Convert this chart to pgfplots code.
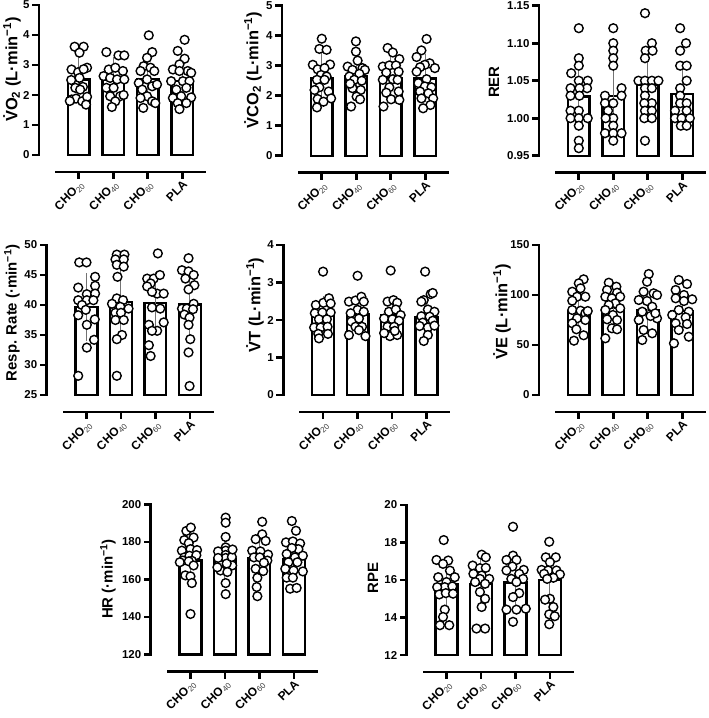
\documentclass[border=0pt]{standalone}
\usepackage{pgfplots}
\pgfplotsset{compat=1.18}
\usepackage{fontspec}
\setmainfont{Liberation Sans}
\newcommand\sub[1]{\textsubscript{\mdseries\color{black!75}#1}}
\newcommand\fourbars[5]{%
 \addplot[barst] coordinates {(-0.315,#1) (-0.315,#2) (0.315,#2) (0.315,#1)} --cycle;
 \addplot[barst] coordinates {(0.685,#1) (0.685,#3) (1.315,#3) (1.315,#1)} --cycle;
 \addplot[barst] coordinates {(1.685,#1) (1.685,#4) (2.315,#4) (2.315,#1)} --cycle;
 \addplot[barst] coordinates {(2.685,#1) (2.685,#5) (3.315,#5) (3.315,#1)} --cycle;
}
% offset axis lines and ticks of one panel (as filled strips); #1,#2 = position (bp) of the plot's lower-left corner, #3 = number of y intervals
\newcommand\panelaxes[3]{%
 \begin{scope}[shift={(#1bp,-#2bp)}, x=1bp, y=1bp]
  \fill[black] (-17.3,-1.3) rectangle (-14.7,151.3);
  \foreach \i in {0,...,#3} {\fill[black] (-23,{150*\i/#3-1.3}) rectangle (-16,{150*\i/#3+1.3});}
  \fill[black] (0,-18.3) rectangle (151,-15.7);
  \foreach \t in {23.79,58.26,92.74,127.21} {\fill[black] ({\t-1.3},-24) rectangle ({\t+1.3},-17);}
 \end{scope}}
\pgfplotsset{
 panel/.style={
   scale only axis, width=151bp, height=150bp,
   xmin=-0.69, xmax=3.69,
   clip=false,
   separate axis lines,
   axis x line*=bottom, axis y line*=left,
   x axis line style={draw=none},
   y axis line style={draw=none},
   tick align=outside, major tick length=6bp,
   xtick={0,1,2,3},
   xticklabels={CHO\sub{20},CHO\sub{40},CHO\sub{60},PLA},
   xtick style={draw=none},
   ytick style={draw=none},
   xticklabel style={yshift=-17bp, rotate=45, anchor=north east, inner sep=1bp, font=\bfseries\fontsize{12}{14}\selectfont},
   yticklabel style={xshift=-16bp, font=\bfseries\fontsize{11.5}{13}\selectfont},
   /pgf/number format/assume math mode=true,
   ylabel style={anchor=center, font=\bfseries\fontsize{15}{17}\selectfont},
 },
 lminlabel/.style={ylabel style={font=\bfseries\fontsize{16.5}{18}\selectfont}},
 barst/.style={draw=black, fill=white, line width=2.4bp, line join=miter},
 errst/.style={draw=none, mark=none,
   error bars/y dir=both, error bars/y explicit,
   error bars/error bar style={draw=black!55, line width=1bp, solid},
   error bars/error mark options={draw=black!55, line width=1bp, mark size=5bp}},
 pts/.style={only marks, mark=*, mark size=4.4bp, mark options={fill=white, draw=black, line width=1.4bp}},
}
\begin{document}
\begin{tikzpicture}
\path[use as bounding box] (0,0) rectangle (709bp,-718bp);

% ---------- VO2
\begin{axis}[panel, lminlabel, at={(55bp,-155bp)}, anchor=south west, ymin=0, ymax=5, ytick={0,1,2,3,4,5},
  ylabel={\.{V}O\textsubscript{2} (L·min\textsuperscript{−1})}, ylabel style={at={(axis description cs:-0.285,0.57)}}]
\fourbars{0}{2.52}{2.52}{2.53}{2.46}
\addplot[errst] coordinates {(0,2.52) +- (0,0.63) (1,2.52) +- (0,0.58) (2,2.53) +- (0,0.65) (3,2.46) +- (0,0.6)};
\addplot[pts] coordinates {(-0.12,3.61)(0.14,3.61)(0.02,3.41)(-0.21,2.85)(-0.02,2.76)(0.24,2.91)(0.14,2.86)(0.02,2.57)(-0.1,2.24)(0.12,2.27)(0.04,2.18)(-0.21,1.85)(-0.08,1.88)(0.1,1.79)(0.24,1.94)(0.21,1.68)(-0.26,1.8)(-0.22,2.5)};
\addplot[pts] coordinates {(0.8,3.43)(1.15,3.32)(1.32,3.32)(0.87,2.85)(1.06,2.91)(1.28,2.8)(0.72,2.63)(0.91,2.57)(1.11,2.52)(1.32,2.52)(0.8,2.24)(1.01,2.24)(0.91,1.96)(1.2,1.96)(1.06,1.79)(0.96,1.6)(1.3,2.0)};
\addplot[pts] coordinates {(2.03,3.99)(2.13,3.43)(1.98,3.24)(1.88,2.96)(2.08,2.91)(1.79,2.8)(2.19,2.8)(1.98,2.52)(1.74,2.4)(2.13,2.29)(2.27,2.35)(1.84,2.18)(1.98,1.96)(1.79,1.9)(2.13,1.79)(1.87,1.57)(2.22,1.73)};
\addplot[pts] coordinates {(3.07,3.84)(2.87,3.47)(3.07,3.21)(2.92,3.02)(2.73,2.85)(3.16,2.8)(2.92,2.8)(3.26,2.74)(2.68,2.46)(3.02,2.46)(3.21,2.46)(2.83,2.18)(3.12,2.24)(2.73,1.9)(2.97,1.96)(3.26,1.92)(2.87,1.73)(3.12,1.73)(2.92,1.53)};
\end{axis}
\panelaxes{55}{155}{5}

% ---------- VCO2
\begin{axis}[panel, lminlabel, at={(298bp,-155.7bp)}, anchor=south west, ymin=0, ymax=5, ytick={0,1,2,3,4,5},
  ylabel={\.{V}CO\textsubscript{2} (L·min\textsuperscript{−1})}, ylabel style={at={(axis description cs:-0.298,0.571)}}]
\fourbars{0}{2.6}{2.65}{2.58}{2.58}
\addplot[errst] coordinates {(0,2.6) +- (0,0.67) (1,2.65) +- (0,0.6) (2,2.58) +- (0,0.6) (3,2.58) +- (0,0.63)};
\addplot[pts] coordinates {(0,3.9)(-0.07,3.56)(0.14,3.53)(-0.26,3.03)(0.24,3.04)(-0.12,2.88)(0.08,2.92)(-0.02,2.69)(0.14,2.64)(-0.14,2.53)(0.08,2.53)(-0.07,2.28)(-0.21,2.19)(0.2,2.14)(-0.12,1.89)(0.27,1.91)(0.05,1.8)(-0.14,1.61)};
\addplot[pts] coordinates {(0.99,3.81)(0.99,3.47)(1.04,3.17)(0.75,2.97)(0.89,2.86)(1.18,2.92)(1.25,2.86)(1.09,2.73)(0.8,2.64)(0.94,2.53)(1.16,2.5)(0.89,2.25)(1.13,2.19)(1.01,1.97)(1.11,1.88)(0.85,1.64)(0.82,2.4)};
\addplot[pts] coordinates {(1.91,3.59)(2.06,3.44)(2.25,3.22)(1.77,2.97)(1.96,3.01)(2.15,3.01)(2.23,2.8)(1.87,2.77)(2.06,2.55)(1.77,2.53)(2.2,2.53)(1.96,2.28)(1.87,2.1)(2.23,2.14)(2.01,1.88)(2.25,1.86)(1.79,1.64)};
\addplot[pts] coordinates {(3.04,3.89)(2.89,3.51)(2.75,3.29)(3.13,3.08)(2.99,3.03)(3.28,2.92)(2.85,2.95)(2.75,2.8)(3.04,2.55)(2.8,2.42)(2.99,2.31)(3.18,2.28)(2.85,2.14)(3.09,2.08)(3.23,1.91)(2.89,1.91)(3.15,1.69)(2.94,1.58)};
\end{axis}
\panelaxes{298}{155.7}{5}

% ---------- RER
\begin{axis}[panel, at={(555bp,-155.7bp)}, anchor=south west, ymin=0.95, ymax=1.15, ytick={0.95,1.00,1.05,1.10,1.15},
  yticklabel style={/pgf/number format/.cd, fixed, fixed zerofill, precision=2},
  ylabel={RER}, ylabel style={at={(axis description cs:-0.404,0.491)}}]
\fourbars{0.95}{1.029}{1.03}{1.045}{1.032}
\addplot[errst] coordinates {(0,1.029) +- (0,0.04) (1,1.03) +- (0,0.046) (2,1.045) +- (0,0.035) (3,1.032) +- (0,0.037)};
\addplot[pts] coordinates {(0,1.12)(0,1.08)(0,1.07)(-0.22,1.06)(0,1.05)(0.26,1.05)(-0.24,1.04)(0.24,1.04)(0.02,1.04)(-0.24,1.03)(0.02,1.03)(-0.24,1.01)(0,1.01)(-0.24,1.0)(0,1.0)(0.26,1.0)(0,0.99)(0,0.97)(0,0.96)};
\addplot[pts] coordinates {(1,1.12)(1,1.10)(1,1.09)(1,1.08)(1,1.07)(1.24,1.04)(0.76,1.03)(1.24,1.03)(0.76,1.02)(1,1.02)(0.85,1.01)(1,1.0)(0.78,1.0)(1,0.99)(0.76,0.98)(1,0.98)(1.24,0.98)(1,0.97)};
\addplot[pts] coordinates {(1.92,1.14)(2.12,1.10)(1.94,1.09)(2.14,1.09)(1.92,1.08)(1.73,1.05)(1.92,1.05)(2.12,1.05)(2.31,1.05)(1.92,1.04)(2.12,1.04)(1.92,1.03)(2.12,1.02)(1.9,1.02)(1.92,1.01)(2.12,1.01)(1.9,1.0)(2.12,1.0)(1.92,0.97)};
\addplot[pts] coordinates {(2.94,1.12)(3.11,1.10)(2.94,1.09)(2.94,1.07)(3.13,1.07)(3.13,1.05)(2.94,1.04)(2.94,1.03)(2.94,1.02)(3.13,1.02)(2.79,1.01)(3.13,1.01)(2.79,1.0)(2.98,1.0)(3.22,1.0)(2.96,0.99)(3.13,0.99)};
\end{axis}
\panelaxes{555}{155.7}{4}

% ---------- Resp. Rate
\begin{axis}[panel, at={(62.7bp,-395bp)}, anchor=south west, ymin=25, ymax=50, ytick={25,30,35,40,45,50},
  ylabel={Resp. Rate (·min\textsuperscript{−1})}, ylabel style={at={(axis description cs:-0.336,0.547)}}]
\fourbars{25}{39.7}{40.5}{40.3}{40.1}
\addplot[errst] coordinates {(0,39.7) +- (0,4.8) (1,40.5) +- (0,5.5) (2,40.3) +- (0,4.3) (3,40.1) +- (0,5.1)};
\addplot[pts] coordinates {(-0.21,47.1)(0,47.1)(0.25,44.7)(-0.24,42.9)(0.25,43.2)(0.01,41.8)(0.25,41.9)(-0.24,40.8)(0.01,40.8)(0.2,40.8)(-0.13,40)(-0.02,39.2)(-0.24,38.3)(0.24,37.6)(0.01,36.7)(0.22,34.2)(0.01,32.9)(-0.24,28.2)};
\addplot[pts] coordinates {(0.88,48.4)(1.1,48.4)(0.84,47.6)(1.08,47.6)(0.88,46.7)(1.08,46.4)(0.9,44.7)(0.88,41.1)(1.06,40.8)(0.74,40.2)(0.98,39.7)(1.22,39.4)(0.84,38.7)(1,38.7)(0.84,37.5)(1.08,37.5)(1.03,35)(0.88,34.3)(0.88,28.2)};
\addplot[pts] coordinates {(2.07,48.6)(1.76,44.4)(1.95,44.4)(2.13,45)(1.86,43.6)(1.76,43.1)(2.05,41.9)(2.24,41.9)(1.9,42.2)(1.9,39.6)(2.14,39.4)(2.24,37.1)(1.81,36.7)(2.05,35.7)(1.9,35.7)(1.81,33.3)(1.86,31.5)};
\addplot[pts] coordinates {(2.77,45.8)(2.96,47.8)(2.96,45.6)(3.11,45)(2.87,44.4)(3.13,43.3)(2.96,42.6)(3.11,40.2)(2.77,39.4)(2.91,39.4)(3.09,39.3)(2.84,38.4)(2.99,37.9)(2.96,36.7)(3.01,34.3)(2.96,32.1)(2.99,26.5)};
\end{axis}
\panelaxes{62.7}{395}{5}

% ---------- VT
\begin{axis}[panel, lminlabel, at={(299.3bp,-395bp)}, anchor=south west, ymin=0, ymax=4, ytick={0,1,2,3,4},
  ylabel={\.{V}T (L·min\textsuperscript{−1})}, ylabel style={at={(axis description cs:-0.293,0.60)}}]
\fourbars{0}{2.12}{2.15}{2.12}{2.08}
\addplot[errst] coordinates {(0,2.12) +- (0,0.38) (1,2.15) +- (0,0.4) (2,2.12) +- (0,0.4) (3,2.08) +- (0,0.4)};
\addplot[pts] coordinates {(0,3.29)(-0.21,2.4)(0.01,2.46)(0.17,2.58)(0.22,2.44)(-0.24,2.18)(-0.02,2.2)(0.22,2.2)(-0.12,2.02)(0.11,2.02)(-0.26,1.8)(-0.07,1.8)(0.13,1.82)(-0.14,1.63)(0.14,1.63)(-0.12,1.51)};
\addplot[pts] coordinates {(1,3.18)(0.75,2.49)(0.94,2.52)(1.11,2.62)(1.18,2.49)(1,2.27)(1.18,2.22)(0.8,2.18)(1.04,2.04)(0.82,1.96)(0.94,1.82)(1.13,1.82)(1.04,1.73)(0.75,1.6)(1.23,1.57)};
\addplot[pts] coordinates {(1.96,3.32)(1.87,2.49)(2.04,2.53)(2.15,2.46)(1.91,2.22)(2.11,2.28)(2.25,2.13)(1.77,2.04)(2.01,2.02)(2.2,1.98)(1.87,1.82)(2.06,1.82)(1.94,1.57)(2.15,1.6)(2.08,1.71)(1.77,1.65)};
\addplot[pts] coordinates {(2.96,3.29)(3.12,2.69)(3.18,2.72)(2.92,2.53)(2.85,2.49)(3.04,2.28)(3.23,2.22)(2.85,2.1)(3.09,2.09)(2.89,1.93)(3.18,1.98)(2.8,1.84)(3.04,1.8)(3.23,1.85)(3.04,1.6)(2.92,1.44)};
\end{axis}
\panelaxes{299.3}{395}{4}

% ---------- VE
\begin{axis}[panel, lminlabel, at={(555bp,-395bp)}, anchor=south west, ymin=0, ymax=150, ytick={0,50,100,150},
  ylabel={\.{V}E (L·min\textsuperscript{−1})}, ylabel style={at={(axis description cs:-0.351,0.553)}}]
\fourbars{0}{84}{87}{85}{84}
\addplot[errst] coordinates {(0,84) +- (0,16) (1,87) +- (0,14) (2,85) +- (0,16) (3,84) +- (0,15)};
\addplot[pts] coordinates {(0.14,115.7)(0,111.7)(0.05,106.7)(-0.19,103.3)(-0.05,98.3)(0.19,98.3)(-0.19,94.3)(-0.19,85)(0.05,84.3)(0.19,81.7)(-0.05,76.7)(-0.19,71.7)(0.19,75)(-0.07,65.7)(0.14,59.7)(-0.14,54.3)(0.26,84)};
\addplot[pts] coordinates {(0.87,112.3)(1.09,108.3)(0.82,105)(1.11,102.3)(0.77,98.3)(0.96,96.7)(1.2,98.3)(1.06,91.7)(0.87,90)(0.77,85)(1.2,86.7)(0.99,80)(0.82,75.7)(1.11,75)(0.96,66.7)(1.11,65.7)(0.77,56.7)};
\addplot[pts] coordinates {(2.03,121)(1.98,113.3)(1.88,103.3)(2.17,101.7)(1.74,95)(1.98,94)(2.27,100)(2.13,88.3)(1.84,83.3)(2.27,76.7)(2.08,79)(1.74,75)(1.88,65)(2.13,61.7)(1.84,55)(2.22,81.7)};
\addplot[pts] coordinates {(2.9,115)(3.14,111)(2.81,105)(3.05,100)(3.29,95.7)(2.81,96.7)(3.05,94)(2.9,85)(3.19,83.3)(2.71,80)(3.1,77.7)(2.81,71.7)(3.14,71)(2.9,65)(3.19,58.3)(2.76,51.7)};
\end{axis}
\panelaxes{555}{395}{3}

% ---------- HR
\begin{axis}[panel, at={(166.7bp,-654.5bp)}, anchor=south west, ymin=120, ymax=200, ytick={120,140,160,180,200},
  ylabel={HR (·min\textsuperscript{−1})}, ylabel style={at={(axis description cs:-0.389,0.503)}}]
\fourbars{120}{170.1}{170.8}{171.3}{170.8}
\addplot[errst] coordinates {(0,170.1) +- (0,9) (1,170.8) +- (0,9.5) (2,171.3) +- (0,8.5) (3,170.8) +- (0,8.5)};
\addplot[pts] coordinates {(-0.12,185.9)(0.01,187.7)(0.09,182.4)(-0.18,181)(-0.05,179.4)(-0.25,175.4)(0,176.2)(0.19,175.7)(-0.18,171.8)(-0.03,172.7)(0.17,173)(-0.22,170.1)(0.04,170)(-0.31,169.2)(-0.05,169.7)(0.09,167.5)(-0.15,162.2)(0,161.7)(0.04,158.1)(0,141.6)};
\addplot[pts] coordinates {(1.02,193)(1.02,190.3)(1.02,182.7)(1.02,177.1)(1.02,175.4)(1.02,173.1)(1.02,171.5)(0.83,168.3)(1.21,167.5)(1.05,168.5)(0.87,164.8)(1.07,164)(0.78,166.5)(1.02,158.1)(1.02,152.2)(0.8,175)(1.2,172)(0.8,171.5)(1.22,176)};
\addplot[pts] coordinates {(2.08,190.8)(2.08,184.1)(1.89,181.5)(2.18,180.6)(1.79,175.4)(2.03,175)(2.25,173.3)(1.84,171.8)(2.01,171.8)(2.23,170.1)(1.89,165.7)(2.11,164.5)(1.94,160.9)(1.92,156)(1.94,151.1)(2.13,169)};
\addplot[pts] coordinates {(2.94,191.2)(3.06,186)(2.77,179.8)(2.97,180.3)(3.18,179.2)(3.13,176.2)(2.94,176.8)(2.79,173.6)(3.03,171.8)(3.26,172.7)(2.84,169.2)(3.1,169.2)(2.75,165.7)(2.99,164.8)(3.26,164.3)(2.79,161)(2.97,161)(2.89,155.1)(3.08,155.5)};
\end{axis}
\panelaxes{166.7}{654.5}{4}

% ---------- RPE
\begin{axis}[panel, at={(422.7bp,-655bp)}, anchor=south west, ymin=12, ymax=20, ytick={12,14,16,18,20},
  ylabel={RPE}, ylabel style={at={(axis description cs:-0.329,0.513)}}]
\fourbars{12}{15.78}{15.8}{15.87}{16.0}
\addplot[errst] coordinates {(0,15.78) +- (0,1.22) (1,15.8) +- (0,1.15) (2,15.87) +- (0,1.35) (3,16.0) +- (0,1.15)};
\addplot[pts] coordinates {(-0.08,18.13)(-0.29,17.07)(0.05,17.04)(-0.1,16.86)(0.1,16.5)(-0.24,16.15)(0.24,16.15)(0,15.89)(-0.05,15.62)(-0.27,15.62)(0.17,15.66)(-0.21,15.23)(-0.02,15.3)(0.19,15.27)(-0.05,14.42)(-0.1,14.03)(-0.19,13.59)(0.08,13.59)};
\addplot[pts] coordinates {(1.02,17.35)(1.14,17.21)(0.76,16.77)(0.97,16.63)(1.14,16.65)(0.78,16.33)(1.02,16.24)(1.24,16.06)(0.97,16.06)(0.83,15.89)(1.12,15.8)(0.97,15.36)(1.12,15.0)(1.02,14.56)(0.87,13.41)(1.12,13.41)};
\addplot[pts] coordinates {(1.93,18.84)(1.93,17.3)(1.74,17.07)(2.03,17.07)(1.91,16.72)(2.24,16.54)(1.74,16.51)(2.11,16.33)(1.88,16.06)(2.22,16.06)(2.03,15.89)(2.11,15.3)(1.93,15.09)(1.74,14.42)(2.03,14.42)(2.3,14.47)(1.93,13.77)};
\addplot[pts] coordinates {(2.98,18.04)(2.88,17.21)(3.17,17.21)(3,16.95)(2.76,16.54)(2.95,16.51)(3.19,16.51)(3.29,16.3)(2.83,16.33)(3.1,16.12)(2.92,16.06)(3,15.0)(2.86,14.95)(3.1,14.56)(2.98,14.17)(3.14,14.07)(2.98,13.64)};
\end{axis}
\panelaxes{422.7}{655}{4}
\end{tikzpicture}
\end{document}
